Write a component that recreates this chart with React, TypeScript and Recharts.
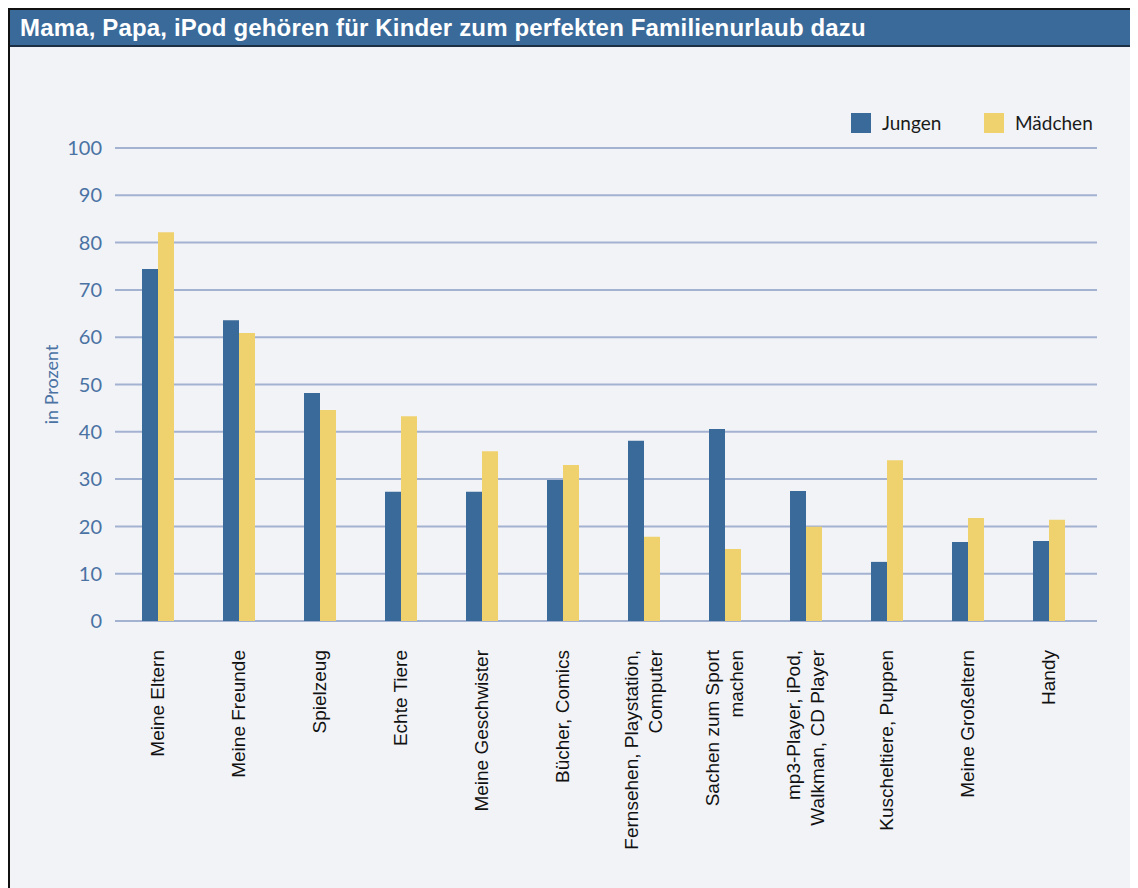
import { BarChart, Bar, XAxis, YAxis, CartesianGrid, Legend, Label } from 'recharts'

const TITLE = 'Mama, Papa, iPod gehören für Kinder zum perfekten Familienurlaub dazu'

const categories = [
  'Meine Eltern',
  'Meine Freunde',
  'Spielzeug',
  'Echte Tiere',
  'Meine Geschwister',
  'Bücher, Comics',
  'Fernsehen, Playstation,\nComputer',
  'Sachen zum Sport\nmachen',
  'mp3-Player, iPod,\nWalkman, CD Player',
  'Kuscheltiere, Puppen',
  'Meine Großeltern',
  'Handy',
]
const jungen = [74.4, 63.6, 48.2, 27.3, 27.3, 29.8, 38.1, 40.6, 27.5, 12.5, 16.7, 16.9]
const maedchen = [82.2, 60.9, 44.6, 43.3, 35.9, 33.0, 17.8, 15.2, 19.9, 34.0, 21.8, 21.4]
const yTicks = [0, 10, 20, 30, 40, 50, 60, 70, 80, 90, 100]

const BLUE = '#3a6a99'
const YELLOW = '#efd16e'
const AXIS_BLUE = '#4a72a3'
const BG = '#f1f3f7'

const data = categories.map((name, i) => ({ name, jungen: jungen[i], maedchen: maedchen[i] }))

function CategoryTick(props: any) {
  const { x, y, payload } = props
  const lines = String(payload.value).split('\n')
  return (
    <g>
      {lines.map((line, i) => (
        <text
          key={i}
          transform={`translate(${x + (i - (lines.length - 1) / 2) * 24}, ${y + 29}) rotate(-90)`}
          textAnchor="end"
          dy="0.35em"
          fontSize={19}
          fontFamily="'Liberation Sans', Arial, sans-serif"
          fill="#111"
        >
          {line}
        </text>
      ))}
    </g>
  )
}

function LegendBox() {
  const items = [
    { label: 'Jungen', color: BLUE },
    { label: 'Mädchen', color: YELLOW },
  ]
  return (
    <div style={{ display: 'flex', fontFamily: 'Lato, sans-serif', fontSize: 19, color: '#1a1a1a' }}>
      {items.map((it) => (
        <div key={it.label} style={{ display: 'flex', alignItems: 'center', width: 133 }}>
          <span style={{ width: 20, height: 20, background: it.color, display: 'inline-block', marginRight: 11 }} />
          <span>{it.label}</span>
        </div>
      ))}
    </div>
  )
}

export default function App() {
  return (
    <div style={{ width: 1130, height: 880, borderLeft: '2px solid #111', borderTop: '2px solid #111', background: BG }}>
      <div
        style={{
          height: 35,
          background: '#3a6a9a',
          borderBottom: '2px solid #1c2f45',
          color: '#fff',
          fontFamily: "'Liberation Sans', Arial, sans-serif",
          fontWeight: 'bold',
          fontSize: 24,
          letterSpacing: 0.16,
          lineHeight: '35px',
          paddingLeft: 10,
          whiteSpace: 'nowrap',
        }}
      >
        {TITLE}
      </div>
      <BarChart
        width={1128}
        height={841}
        data={data}
        margin={{ top: 101, right: 41, bottom: 0, left: 0 }}
        barSize={16}
        barGap={0}
      >
        <CartesianGrid horizontal vertical={false} stroke="#a4b2d2" strokeWidth={2} />
        <XAxis
          dataKey="name"
          interval={0}
          height={267}
          axisLine={false}
          tickLine={false}
          tickSize={0}
          tickMargin={0}
          padding={{ left: 2, right: 8 }}
          tick={<CategoryTick />}
        />
        <YAxis
          width={105}
          domain={[0, 100]}
          ticks={yTicks}
          axisLine={false}
          tickLine={false}
          tickSize={6}
          tickMargin={7}
          tick={{ fill: AXIS_BLUE, fontSize: 20, fontFamily: 'Lato, sans-serif' }}
        >
          <Label
            content={(p: any) => {
              const vb = p.viewBox
              const cx = vb.x + 42
              const cy = vb.y + vb.height / 2
              return (
                <text
                  transform={`translate(${cx}, ${cy}) rotate(-90)`}
                  textAnchor="middle"
                  dy="0.35em"
                  fontSize={18}
                  fontFamily="Lato, sans-serif"
                  fill={AXIS_BLUE}
                >
                  in Prozent
                </text>
              )
            }}
          />
        </YAxis>
        <Legend
          verticalAlign="middle"
          align="center"
          layout="horizontal"
          content={<LegendBox />}
          wrapperStyle={{ top: 64, left: 841, width: 'auto' }}
        />
        <Bar dataKey="jungen" name="Jungen" fill={BLUE} isAnimationActive={false} />
        <Bar dataKey="maedchen" name="Mädchen" fill={YELLOW} isAnimationActive={false} />
      </BarChart>
    </div>
  )
}
